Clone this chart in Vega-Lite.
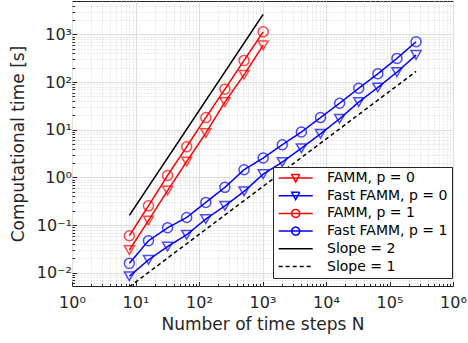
{
  "$schema": "https://vega.github.io/schema/vega-lite/v6.json",
  "width": 381,
  "height": 285,
  "autosize": {"type": "none"},
  "padding": {"left": 72, "top": 1, "right": 15, "bottom": 57},
  "background": "white",
  "config": {
    "view": {"stroke": "#262626", "strokeWidth": 1},
    "font": "DejaVu Sans",
    "axis": {
      "domain": false,
      "labelFont": "DejaVu Sans",
      "labelFontSize": 16,
      "labelColor": "#262626",
      "titleFont": "DejaVu Sans",
      "titleFontSize": 17,
      "titleFontWeight": "normal",
      "titleColor": "#262626",
      "tickColor": "#262626",
      "labelOverlap": false,
      "labelBound": false,
      "labelFlush": false
    }
  },
  "datasets": {
    "series": [
      {"series": "FAMM, p = 0", "N": 8, "t": 0.03},
      {"series": "FAMM, p = 0", "N": 16, "t": 0.125},
      {"series": "FAMM, p = 0", "N": 32, "t": 0.53},
      {"series": "FAMM, p = 0", "N": 64, "t": 2.16},
      {"series": "FAMM, p = 0", "N": 128, "t": 8.5},
      {"series": "FAMM, p = 0", "N": 256, "t": 38},
      {"series": "FAMM, p = 0", "N": 512, "t": 142},
      {"series": "FAMM, p = 0", "N": 1024, "t": 590},
      {"series": "Fast FAMM, p = 0", "N": 8, "t": 0.0085},
      {"series": "Fast FAMM, p = 0", "N": 16, "t": 0.0187},
      {"series": "Fast FAMM, p = 0", "N": 32, "t": 0.0356},
      {"series": "Fast FAMM, p = 0", "N": 64, "t": 0.063},
      {"series": "Fast FAMM, p = 0", "N": 128, "t": 0.134},
      {"series": "Fast FAMM, p = 0", "N": 256, "t": 0.254},
      {"series": "Fast FAMM, p = 0", "N": 512, "t": 0.51},
      {"series": "Fast FAMM, p = 0", "N": 1024, "t": 1.17},
      {"series": "Fast FAMM, p = 0", "N": 2048, "t": 2.1},
      {"series": "Fast FAMM, p = 0", "N": 4096, "t": 4.1},
      {"series": "Fast FAMM, p = 0", "N": 8192, "t": 8.2},
      {"series": "Fast FAMM, p = 0", "N": 16384, "t": 17},
      {"series": "Fast FAMM, p = 0", "N": 32768, "t": 38},
      {"series": "Fast FAMM, p = 0", "N": 65536, "t": 77},
      {"series": "Fast FAMM, p = 0", "N": 131072, "t": 161},
      {"series": "Fast FAMM, p = 0", "N": 262144, "t": 370},
      {"series": "FAMM, p = 1", "N": 8, "t": 0.06},
      {"series": "FAMM, p = 1", "N": 16, "t": 0.254},
      {"series": "FAMM, p = 1", "N": 32, "t": 1.1},
      {"series": "FAMM, p = 1", "N": 64, "t": 4.4},
      {"series": "FAMM, p = 1", "N": 128, "t": 18},
      {"series": "FAMM, p = 1", "N": 256, "t": 71},
      {"series": "FAMM, p = 1", "N": 512, "t": 284},
      {"series": "FAMM, p = 1", "N": 1024, "t": 1130},
      {"series": "Fast FAMM, p = 1", "N": 8, "t": 0.0158},
      {"series": "Fast FAMM, p = 1", "N": 16, "t": 0.047},
      {"series": "Fast FAMM, p = 1", "N": 32, "t": 0.088},
      {"series": "Fast FAMM, p = 1", "N": 64, "t": 0.145},
      {"series": "Fast FAMM, p = 1", "N": 128, "t": 0.30},
      {"series": "Fast FAMM, p = 1", "N": 256, "t": 0.62},
      {"series": "Fast FAMM, p = 1", "N": 512, "t": 1.45},
      {"series": "Fast FAMM, p = 1", "N": 1024, "t": 2.55},
      {"series": "Fast FAMM, p = 1", "N": 2048, "t": 4.85},
      {"series": "Fast FAMM, p = 1", "N": 4096, "t": 8.96},
      {"series": "Fast FAMM, p = 1", "N": 8192, "t": 18},
      {"series": "Fast FAMM, p = 1", "N": 16384, "t": 36},
      {"series": "Fast FAMM, p = 1", "N": 32768, "t": 74},
      {"series": "Fast FAMM, p = 1", "N": 65536, "t": 149},
      {"series": "Fast FAMM, p = 1", "N": 131072, "t": 313},
      {"series": "Fast FAMM, p = 1", "N": 262144, "t": 700},
      {"series": "Slope = 2", "N": 8, "t": 0.16},
      {"series": "Slope = 2", "N": 1024, "t": 2620},
      {"series": "Slope = 1", "N": 8, "t": 0.0051},
      {"series": "Slope = 1", "N": 262144, "t": 167}
    ]
  },
  "data": {"name": "series"},
  "encoding": {
    "x": {
      "field": "N", "type": "quantitative",
      "scale": {"type": "log", "domain": [1, 1000000], "nice": false},
      "axis": {
        "title": "Number of time steps N",
        "titlePadding": 4,
        "values": [1,2,3,4,5,6,7,8,9,10,20,30,40,50,60,70,80,90,100,200,300,400,500,600,700,800,900,1000,2000,3000,4000,5000,6000,7000,8000,9000,10000,20000,30000,40000,50000,60000,70000,80000,90000,100000,200000,300000,400000,500000,600000,700000,800000,900000,1000000],
        "labelExpr": "abs(log(datum.value)/LN10 - round(log(datum.value)/LN10)) < 1e-6 ? '10' + (round(log(datum.value)/LN10) < 0 ? '⁻' : '') + substring('⁰¹²³⁴⁵⁶⁷⁸⁹', abs(round(log(datum.value)/LN10)), abs(round(log(datum.value)/LN10)) + 1) : ''",
        "labelPadding": 13,
        "tickSize": {"condition": {"test": "abs(log(datum.value)/LN10 - round(log(datum.value)/LN10)) > 1e-6", "value": -2.5}, "value": -4.5},
        "grid": true,
        "gridColor": {"condition": {"test": "abs(log(datum.value)/LN10 - round(log(datum.value)/LN10)) > 1e-6", "value": "#d4d4d4"}, "value": "#dedede"},
        "gridDash": {"condition": {"test": "abs(log(datum.value)/LN10 - round(log(datum.value)/LN10)) > 1e-6", "value": [1, 2]}, "value": []}
      }
    },
    "y": {
      "field": "t", "type": "quantitative",
      "scale": {"type": "log", "domain": [0.0053, 5000], "nice": false},
      "axis": {
        "title": "Computational time [s]",
        "titlePadding": 9,
        "values": [0.006,0.007,0.008,0.009,0.01,0.02,0.03,0.04,0.05,0.06,0.07,0.08,0.09,0.1,0.2,0.3,0.4,0.5,0.6,0.7,0.8,0.9,1,2,3,4,5,6,7,8,9,10,20,30,40,50,60,70,80,90,100,200,300,400,500,600,700,800,900,1000,2000,3000,4000],
        "labelExpr": "abs(log(datum.value)/LN10 - round(log(datum.value)/LN10)) < 1e-6 ? '10' + (round(log(datum.value)/LN10) < 0 ? '⁻' : '') + substring('⁰¹²³⁴⁵⁶⁷⁸⁹', abs(round(log(datum.value)/LN10)), abs(round(log(datum.value)/LN10)) + 1) : ''",
        "labelPadding": 5,
        "tickSize": {"condition": {"test": "abs(log(datum.value)/LN10 - round(log(datum.value)/LN10)) > 1e-6", "value": -2.5}, "value": -4.5},
        "grid": true,
        "gridColor": {"condition": {"test": "abs(log(datum.value)/LN10 - round(log(datum.value)/LN10)) > 1e-6", "value": "#d4d4d4"}, "value": "#dedede"},
        "gridDash": {"condition": {"test": "abs(log(datum.value)/LN10 - round(log(datum.value)/LN10)) > 1e-6", "value": [1, 2]}, "value": []}
      }
    }
  },
  "layer": [
    {
      "mark": {"type": "line", "clip": true},
      "encoding": {
        "color": {
          "field": "series", "type": "nominal",
          "scale": {
            "domain": ["FAMM, p = 0", "Fast FAMM, p = 0", "FAMM, p = 1", "Fast FAMM, p = 1", "Slope = 2", "Slope = 1"],
            "range": ["#ff0000", "#0000ff", "#ff0000", "#0000ff", "#000000", "#000000"]
          },
          "legend": {
            "title": null,
            "orient": "none",
            "legendX": 201,
            "legendY": 166,
            "fillColor": "white",
            "strokeColor": "#262626",
            "padding": 4,
            "rowPadding": 3.7,
            "symbolSize": 100,
            "symbolStrokeWidth": 1.5,
            "labelFont": "DejaVu Sans",
            "labelFontSize": 14,
            "labelColor": "#000000",
            "labelOffset": 36,
            "labelLimit": 300,
            "encode": {
              "symbols": {
                "update": {
                  "shape": {"signal": "indexof(datum.value, 'Slope') >= 0 ? 'M-1.06,0H5.74' : (indexof(datum.value, 'p = 0') >= 0 ? 'M-1.06,0H5.74M1.54,-0.7H3.14L2.34,0.8Z' : 'M-1.06,0H5.74M3.14,0A0.8,0.8 0 1,1 1.54,0A0.8,0.8 0 1,1 3.14,0')"},
                  "strokeDash": {"signal": "datum.value == 'Slope = 1' ? [3, 3] : []"},
                  "strokeWidth": {"signal": "indexof(datum.value, 'Slope') >= 0 ? 1 : 1.5"},
                  "fill": {"value": "transparent"},
                  "opacity": {"value": 1}
                }
              }
            }
          }
        },
        "strokeDash": {
          "field": "series", "type": "nominal",
          "scale": {
            "domain": ["FAMM, p = 0", "Fast FAMM, p = 0", "FAMM, p = 1", "Fast FAMM, p = 1", "Slope = 2", "Slope = 1"],
            "range": [[1, 0], [1, 0], [1, 0], [1, 0], [1, 0], [4, 3]]
          },
          "legend": null
        },
        "strokeWidth": {
          "field": "series", "type": "nominal",
          "scale": {
            "domain": ["FAMM, p = 0", "Fast FAMM, p = 0", "FAMM, p = 1", "Fast FAMM, p = 1", "Slope = 2", "Slope = 1"],
            "range": [1.5, 1.5, 1.5, 1.5, 1, 1]
          },
          "legend": null
        }
      }
    },
    {
      "transform": [{"filter": "indexof(datum.series, 'Slope') < 0"}],
      "mark": {"type": "point", "filled": false, "strokeWidth": 1.5, "size": 100},
      "encoding": {
        "stroke": {
          "field": "series", "type": "nominal",
          "scale": {
            "domain": ["FAMM, p = 0", "Fast FAMM, p = 0", "FAMM, p = 1", "Fast FAMM, p = 1"],
            "range": ["#ff0000", "#0000ff", "#ff0000", "#0000ff"]
          },
          "legend": null
        },
        "shape": {
          "field": "series", "type": "nominal",
          "scale": {
            "domain": ["FAMM, p = 0", "Fast FAMM, p = 0", "FAMM, p = 1", "Fast FAMM, p = 1"],
            "range": ["triangle-down", "triangle-down", "circle", "circle"]
          },
          "legend": null
        }
      }
    }
  ]
}
